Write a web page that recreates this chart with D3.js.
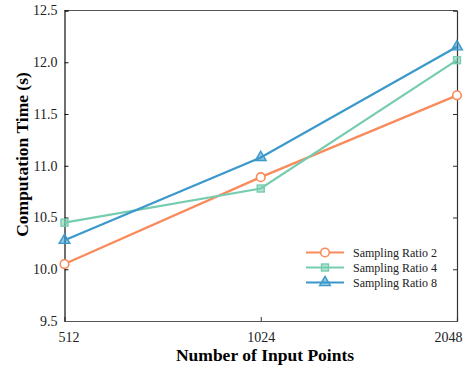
<!DOCTYPE html>
<html>
<head>
<meta charset="utf-8">
<script src="https://cdn.jsdelivr.net/npm/d3@7"></script>
<style>
  body { margin: 0; background: #fff; }
  svg { display: block; }
</style>
</head>
<body>
<div id="chart"></div>
<script>
// data
const inputPoints = [512, 1024, 2048];
const ratio2 = [10.05, 10.89, 11.68];
const ratio4 = [10.45, 10.78, 12.02];
const ratio8 = [10.28, 11.08, 12.15];
const yTicks = [9.5, 10.0, 10.5, 11.0, 11.5, 12.0, 12.5];

const seriesNames = ['Sampling Ratio 2', 'Sampling Ratio 4', 'Sampling Ratio 8'];
const seriesColors = ['#f98a5b', '#76ccaf', '#3a98cb'];
const seriesMarkers = ['circle', 'square', 'triangle'];

const width = 468, height = 368;
const margin = { left: 64.5, right: 11, top: 10.5, bottom: 47 };
const w = width - margin.left - margin.right;
const h = height - margin.top - margin.bottom;

const series = [ratio2, ratio4, ratio8].map((vals, i) => ({
  name: seriesNames[i],
  color: seriesColors[i],
  marker: seriesMarkers[i],
  values: vals.map((v, j) => ({ x: inputPoints[j], y: v }))
}));

const svg = d3.select('#chart').append('svg')
  .attr('width', width)
  .attr('height', height);

const g = svg.append('g')
  .attr('transform', 'translate(' + margin.left + ',' + margin.top + ')');

const x = d3.scaleLog().base(2).domain([512, 2048]).range([0, w]);
const y = d3.scaleLinear().domain([9.5, 12.5]).range([h, 0]);

const font = '"Liberation Serif", "Times New Roman", serif';

// frame: top and right
g.append('line').attr('x1', 0).attr('x2', w).attr('y1', 0).attr('y2', 0)
  .attr('stroke', '#555').attr('stroke-width', 1.2);
g.append('g')
  .attr('transform', 'translate(' + w + ',0)')
  .call(d3.axisLeft(y).tickValues(yTicks).tickSize(4).tickFormat(''))
  .call(a => a.select('.domain').attr('stroke', '#333').attr('stroke-width', 1.2))
  .call(a => a.selectAll('.tick line').attr('stroke', '#333'));

// left axis
g.append('g')
  .call(d3.axisRight(y).tickValues(yTicks).tickSize(4).tickFormat(d3.format('.1f')))
  .call(a => a.select('.domain').attr('stroke', '#111').attr('stroke-width', 1.2))
  .call(a => a.selectAll('.tick line').attr('stroke', '#111'))
  .call(a => a.selectAll('.tick text')
    .attr('x', -7)
    .attr('text-anchor', 'end')
    .attr('fill', '#222')
    .style('font-family', font)
    .style('font-size', '14px'));

// bottom axis (end labels pulled inside the frame, as in the reference)
const lastX = inputPoints[inputPoints.length - 1];
g.append('g')
  .attr('transform', 'translate(0,' + h + ')')
  .call(d3.axisTop(x).tickValues(inputPoints).tickSize(4).tickFormat(d3.format('d')))
  .call(a => a.select('.domain').attr('stroke', '#555').attr('stroke-width', 1.2))
  .call(a => a.selectAll('.tick line').attr('stroke', '#333'))
  .call(a => a.selectAll('.tick text')
    .attr('y', 20.5)
    .attr('dy', '0')
    .attr('text-anchor', d => d === inputPoints[0] ? 'start' : (d === lastX ? 'end' : 'middle'))
    .attr('dx', d => d === inputPoints[0] ? -6.5 : (d === lastX ? 5 : 0))
    .attr('fill', '#222')
    .style('font-family', font)
    .style('font-size', '14px'));

// axis titles
svg.append('text')
  .attr('x', 265)
  .attr('y', 361)
  .attr('text-anchor', 'middle')
  .style('font-family', font)
  .style('font-size', '17.5px')
  .style('font-weight', 'bold')
  .text('Number of Input Points');

svg.append('text')
  .attr('transform', 'translate(28,154.5) rotate(-90)')
  .attr('text-anchor', 'middle')
  .style('font-family', font)
  .style('font-size', '17.5px')
  .style('font-weight', 'bold')
  .text('Computation Time (s)');

const line = d3.line()
  .x(d => x(d.x))
  .y(d => y(d.y));

function drawMarker(sel, type, color) {
  if (type === 'circle') {
    sel.append('circle').attr('r', 4.3)
      .attr('fill', '#fff').attr('stroke', color).attr('stroke-width', 1.6);
  } else if (type === 'square') {
    sel.append('rect').attr('x', -3.5).attr('y', -3.5).attr('width', 7).attr('height', 7)
      .attr('fill', color).attr('fill-opacity', 0.55).attr('stroke', color).attr('stroke-width', 1.4);
  } else {
    sel.append('path').attr('d', d3.symbol().type(d3.symbolTriangle).size(50)())
      .attr('fill', color).attr('fill-opacity', 0.55).attr('stroke', color).attr('stroke-width', 1.4);
  }
}

series.forEach(s => {
  g.append('path')
    .attr('d', line(s.values))
    .attr('fill', 'none')
    .attr('stroke', s.color)
    .attr('stroke-width', 2.2);
});

series.forEach(s => {
  g.selectAll(null)
    .data(s.values)
    .enter()
    .append('g')
    .attr('transform', d => 'translate(' + x(d.x) + ',' + y(d.y) + ')')
    .each(function () { drawMarker(d3.select(this), s.marker, s.color); });
});

// legend
const legend = svg.append('g').attr('transform', 'translate(306,252.5)');
series.forEach((s, i) => {
  const row = legend.append('g').attr('transform', 'translate(0,' + (i * 15) + ')');
  row.append('line').attr('x1', 0).attr('x2', 38).attr('y1', 0).attr('y2', 0)
    .attr('stroke', s.color).attr('stroke-width', 2.2);
  drawMarker(row.append('g').attr('transform', 'translate(19,0)'), s.marker, s.color);
  row.append('text')
    .attr('x', 47)
    .attr('y', 0)
    .attr('dy', '0.35em')
    .attr('fill', '#222')
    .style('font-family', font)
    .style('font-size', '12px')
    .text(s.name);
});
</script>
</body>
</html>
